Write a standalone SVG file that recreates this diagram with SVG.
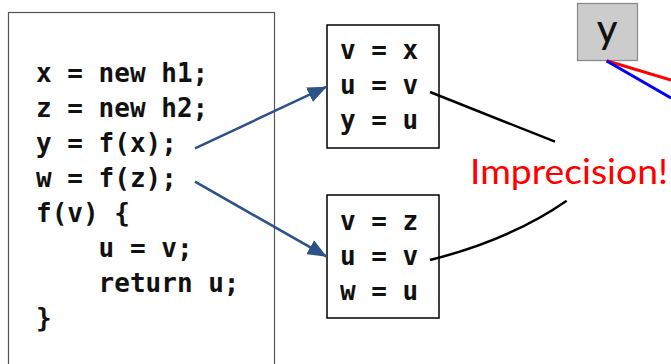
<svg xmlns="http://www.w3.org/2000/svg" width="671" height="364" viewBox="0 0 671 364">
<style>
.code{font-family:"DejaVu Sans Mono","Liberation Mono",monospace;font-weight:bold;font-size:26px;fill:#111;white-space:pre}
.box{fill:#fff;stroke:#000;stroke-width:1.5}
.arrow{fill:none;stroke:#2C5288;stroke-width:2.5}
.line{fill:none;stroke:#000;stroke-width:2.5}
</style>
<defs>
<marker id="ah" markerUnits="userSpaceOnUse" markerWidth="20" markerHeight="16" refX="19" refY="8" orient="auto">
<path d="M0,0 L19,8 L0,16 Z" fill="#2C5288"/>
</marker>
</defs>
<rect width="671" height="364" fill="#fff"/>
<g id="code">
<rect x="8.5" y="12.5" width="266" height="360" fill="#fff" stroke="#555" stroke-width="1.2"/>
<text class="code" x="36" y="82">x = new h1;</text>
<text class="code" x="36" y="117">z = new h2;</text>
<text class="code" x="36" y="152">y = f(x);</text>
<text class="code" x="36" y="187">w = f(z);</text>
<text class="code" x="36" y="222">f(v) {</text>
<text class="code" x="36" y="257" xml:space="preserve">    u = v;</text>
<text class="code" x="36" y="292" xml:space="preserve">    return u;</text>
<text class="code" x="36" y="327">}</text>
</g>
<g id="call1">
<rect class="box" x="327" y="25" width="112" height="123"/>
<text class="code" x="340" y="59">v = x</text>
<text class="code" x="340" y="94">u = v</text>
<text class="code" x="340" y="128.5">y = u</text>
</g>
<g id="call2">
<rect class="box" x="327" y="195" width="112" height="123"/>
<text class="code" x="340" y="230">v = z</text>
<text class="code" x="340" y="265">u = v</text>
<text class="code" x="340" y="300">w = u</text>
</g>
<g id="imprecision">
<text x="470" y="184" font-family="Lato,'Open Sans',sans-serif" font-size="34" fill="#FF0000" textLength="198" lengthAdjust="spacingAndGlyphs">Imprecision!</text>
</g>
<g id="ynode">
<rect x="577.5" y="3.5" width="60" height="57" fill="#CCCCCC" stroke="#888" stroke-width="1.2"/>
<text x="607" y="43" font-family="Lato,'Open Sans',sans-serif" font-size="40" font-weight="500" fill="#111" text-anchor="middle">y</text>
</g>
<g id="connectors">
<line class="arrow" x1="195" y1="148.3" x2="326.7" y2="86.7" marker-end="url(#ah)"/>
<line class="arrow" x1="195" y1="181.7" x2="326.7" y2="256.7" marker-end="url(#ah)"/>
<line class="line" x1="430" y1="92" x2="555" y2="141.7"/>
<path class="line" d="M430,260 Q510,240 566.7,200.7"/>
<line x1="606.7" y1="60.7" x2="671" y2="80" stroke="#FF0000" stroke-width="3"/>
<line x1="606.7" y1="61" x2="671" y2="98" stroke="#0000FF" stroke-width="3"/>
</g>
</svg>
